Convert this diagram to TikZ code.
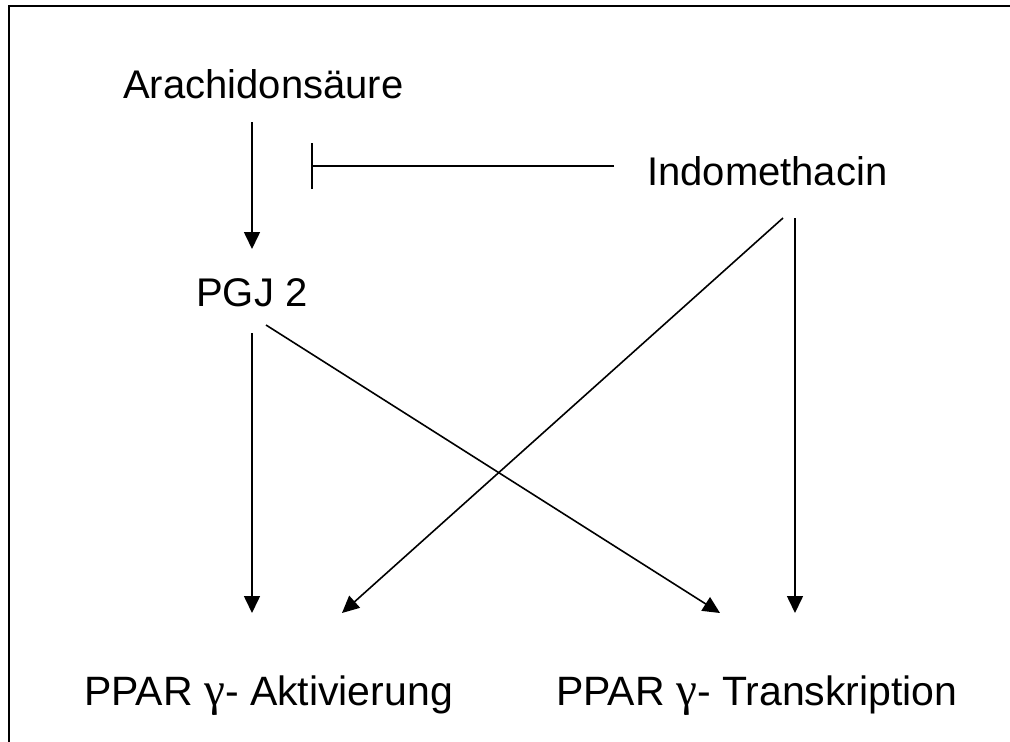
\documentclass[tikz,border=0pt]{standalone}
\usepackage{fontspec}
\setmainfont{Liberation Sans}
\newfontfamily\greekserif[Scale=1.15]{Liberation Serif}
\usetikzlibrary{arrows.meta}
\begin{document}
\begin{tikzpicture}[x=1pt,y=-1pt,
  lbl/.style={anchor=base west,inner sep=0pt,font=\fontsize{40}{46}\selectfont},
  lblb/.style={lbl,font=\fontsize{41}{46}\selectfont},
  arr/.style={line width=1.6pt,-{Triangle[length=17pt,width=16pt]}},
  inhib/.style={line width=1.6pt,-{Bar[width=46pt,line width=1.6pt]}}]
\useasboundingbox (0,0) rectangle (1010,742);
\fill[white] (0,0) rectangle (1010,742);
\draw[line width=2.8pt] (9,760) -- (9,6) -- (1030,6);
\node[lbl] (ara) at (123,98) {Arachidonsäure};
\node[lbl] (indo) at (647,185) {Indomethacin};
\node[lbl] (pgj) at (196,306) {PGJ 2};
\node[lblb] (akt) at (84,705) {PPAR {\greekserif γ}- Aktivierung};
\node[lblb] (trans) at (556,705) {PPAR {\greekserif γ}- Transkription};
\coordinate (araS) at (252,122);
\coordinate (pgjN) at (252,249);
\coordinate (pgjS) at (252,333);
\coordinate (pgjSE) at (266,325);
\coordinate (inhib) at (311,166);
\coordinate (indoW) at (614,166);
\coordinate (indoSW) at (783,218);
\coordinate (indoS) at (795,218);
\coordinate (aktN) at (252,613);
\coordinate (aktNE) at (342,613);
\coordinate (transNW) at (720,613);
\coordinate (transN) at (795,613);
\draw[arr] (araS) -- (pgjN);
\draw[inhib] (indoW) -- (inhib);
\draw[arr] (pgjS) -- (aktN);
\draw[arr] (pgjSE) -- (transNW);
\draw[arr] (indoSW) -- (aktNE);
\draw[arr] (indoS) -- (transN);
\end{tikzpicture}
\end{document}
